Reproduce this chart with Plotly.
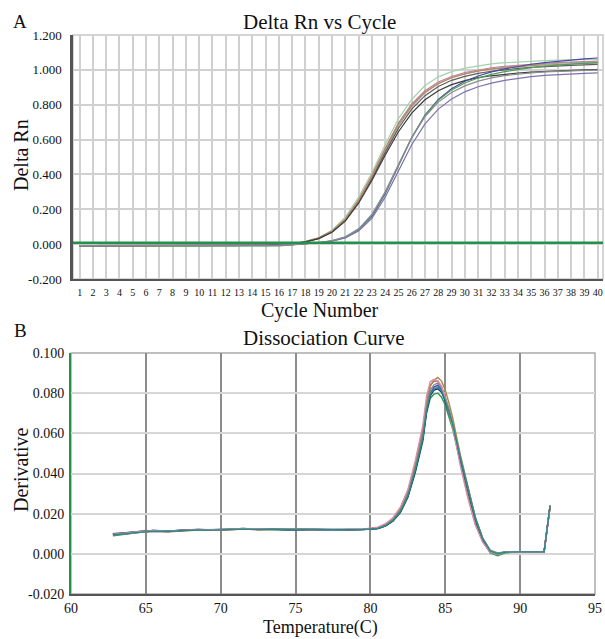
import plotly.graph_objects as go

# ---------------- Data: amplification plot (A) ----------------
cycles = list(range(1, 41))
cycle_ticks = [str(c) for c in cycles]
threshold = 0.008

amp_e1 = [-0.008,-0.009,-0.009,-0.010,-0.010,-0.010,-0.010,-0.010,-0.010,-0.010,-0.011,-0.011,-0.012,-0.012,-0.010,
          -0.006,0.002,0.015,0.038,0.080,0.155,0.270,0.410,0.570,0.720,0.830,0.910,0.960,0.990,1.010,
          1.024,1.034,1.041,1.046,1.050,1.053,1.056,1.058,1.060,1.062]
amp_e2 = [-0.010,-0.012,-0.011,-0.010,-0.010,-0.009,-0.009,-0.010,-0.010,-0.009,-0.009,-0.009,-0.008,-0.008,-0.007,
          -0.004,0.003,0.015,0.036,0.075,0.145,0.255,0.395,0.550,0.695,0.805,0.880,0.930,0.962,0.985,
          1.000,1.012,1.020,1.027,1.032,1.037,1.041,1.044,1.047,1.050]
amp_e3 = [-0.007,-0.008,-0.008,-0.008,-0.008,-0.008,-0.008,-0.009,-0.009,-0.009,-0.009,-0.009,-0.008,-0.008,-0.007,
          -0.004,0.002,0.013,0.033,0.070,0.138,0.243,0.380,0.535,0.680,0.790,0.868,0.920,0.955,0.978,
          0.995,1.007,1.016,1.023,1.029,1.034,1.038,1.041,1.044,1.046]
amp_e4 = [-0.009,-0.009,-0.009,-0.009,-0.009,-0.009,-0.009,-0.009,-0.009,-0.009,-0.009,-0.008,-0.008,-0.008,-0.007,
          -0.004,0.002,0.013,0.033,0.072,0.140,0.245,0.375,0.525,0.665,0.775,0.852,0.905,0.940,0.963,
          0.980,0.992,1.001,1.008,1.014,1.019,1.023,1.026,1.029,1.031]
amp_e5 = [-0.008,-0.008,-0.008,-0.009,-0.009,-0.009,-0.009,-0.009,-0.009,-0.009,-0.009,-0.009,-0.008,-0.008,-0.007,
          -0.004,0.002,0.014,0.035,0.074,0.143,0.250,0.388,0.545,0.690,0.798,0.872,0.922,0.955,0.977,
          0.993,1.004,1.012,1.019,1.024,1.028,1.032,1.035,1.037,1.040]
amp_e6 = [-0.009,-0.009,-0.009,-0.009,-0.009,-0.009,-0.009,-0.009,-0.009,-0.009,-0.009,-0.009,-0.008,-0.008,-0.007,
          -0.004,0.002,0.013,0.032,0.068,0.132,0.235,0.365,0.510,0.645,0.752,0.828,0.880,0.915,0.938,
          0.955,0.966,0.975,0.982,0.987,0.991,0.995,0.998,1.000,1.002]
amp_l1 = [-0.009,-0.009,-0.009,-0.009,-0.009,-0.009,-0.009,-0.009,-0.009,-0.009,-0.009,-0.009,-0.009,-0.008,-0.008,
          -0.006,-0.003,0.002,0.008,0.018,0.038,0.082,0.160,0.290,0.450,0.610,0.740,0.830,0.892,0.935,
          0.965,0.988,1.006,1.020,1.032,1.042,1.050,1.057,1.063,1.068]
amp_l2 = [-0.010,-0.010,-0.010,-0.010,-0.010,-0.010,-0.010,-0.010,-0.010,-0.011,-0.012,-0.013,-0.014,-0.014,-0.013,
          -0.010,-0.005,0.001,0.008,0.019,0.040,0.085,0.165,0.295,0.455,0.612,0.738,0.826,0.885,0.925,
          0.953,0.974,0.990,1.003,1.013,1.021,1.028,1.033,1.037,1.041]
amp_l3 = [-0.008,-0.008,-0.008,-0.008,-0.008,-0.008,-0.008,-0.008,-0.008,-0.008,-0.008,-0.008,-0.008,-0.008,-0.008,
          -0.006,-0.003,0.002,0.008,0.017,0.035,0.075,0.148,0.270,0.420,0.570,0.690,0.775,0.833,0.874,
          0.903,0.924,0.940,0.952,0.961,0.968,0.973,0.977,0.980,0.983]
amp_l4 = [-0.009,-0.009,-0.009,-0.009,-0.009,-0.009,-0.009,-0.009,-0.009,-0.009,-0.009,-0.009,-0.009,-0.008,-0.008,
          -0.006,-0.003,0.002,0.009,0.020,0.042,0.088,0.170,0.300,0.458,0.612,0.732,0.815,0.870,0.908,
          0.935,0.954,0.967,0.976,0.983,0.988,0.992,0.995,0.997,0.999]

amp_series = [amp_e1, amp_e2, amp_e3, amp_e4, amp_e5, amp_e6, amp_l1, amp_l2, amp_l3, amp_l4]
amp_colors = ["#9fd4ad", "#c87a9a", "#a0a0a0", "#5e5e5e", "#b38d62", "#3a3a3a",
              "#4a4aa0", "#4f9e60", "#7c72b2", "#8c8c8c"]

# ---------------- Data: dissociation curve (B) ----------------
temps = [62.8, 63.5, 64.5, 65.5, 66.5, 67.5, 68.5, 69.5, 70.5, 71.5, 72.5, 73.5, 74.5, 75.5, 76.5,
         77.5, 78.5, 79.5, 80.5, 81.0, 81.5, 82.0, 82.5, 83.0, 83.5, 83.75, 84.0, 84.25, 84.5, 84.75,
         85.0, 85.25, 85.5, 86.0, 86.5, 87.0, 87.5, 88.0, 88.5, 89.0, 90.0, 91.0, 91.6, 92.0]

der_d1 = [0.0095,0.0102,0.0108,0.0112,0.0110,0.0116,0.0119,0.0117,0.0121,0.0124,0.0120,0.0123,0.0121,0.0123,0.0120,0.0118,0.0121,0.0123,
          0.0131,0.0146,0.0175,0.0225,0.0310,0.0450,0.0620,
          0.0760,0.0840,0.0860,0.0860,0.0830,0.0775,0.0710,0.0640,
          0.0450,0.0290,0.0150,0.0060,0.0008,-0.0005,0.0008,
          0.0010,0.0010,0.0010,0.0235]
der_d2 = [0.0090,0.0098,0.0106,0.0113,0.0111,0.0117,0.0118,0.0116,0.0120,0.0123,0.0121,0.0122,0.0119,0.0121,0.0122,0.0119,0.0120,0.0121,
          0.0126,0.0138,0.0162,0.0205,0.0280,0.0405,0.0560,
          0.0700,0.0775,0.0795,0.0800,0.0780,0.0740,0.0685,0.0620,
          0.0460,0.0310,0.0165,0.0065,0.0005,-0.0010,0.0005,
          0.0010,0.0010,0.0010,0.0240]
der_d3 = [0.0098,0.0101,0.0110,0.0116,0.0113,0.0119,0.0121,0.0119,0.0122,0.0126,0.0122,0.0124,0.0120,0.0122,0.0121,0.0120,0.0119,0.0122,
          0.0127,0.0140,0.0166,0.0210,0.0290,0.0420,0.0580,
          0.0720,0.0800,0.0830,0.0840,0.0818,0.0770,0.0710,0.0645,
          0.0480,0.0325,0.0180,0.0075,0.0015,0.0000,0.0008,
          0.0010,0.0010,0.0010,0.0240]
der_d4 = [0.0100,0.0104,0.0112,0.0117,0.0114,0.0118,0.0120,0.0120,0.0123,0.0125,0.0123,0.0121,0.0122,0.0120,0.0121,0.0121,0.0120,0.0121,
          0.0126,0.0139,0.0164,0.0208,0.0285,0.0412,0.0570,
          0.0710,0.0788,0.0815,0.0822,0.0805,0.0760,0.0705,0.0640,
          0.0475,0.0320,0.0175,0.0072,0.0012,0.0002,0.0009,
          0.0010,0.0010,0.0010,0.0238]
der_d5 = [0.0093,0.0099,0.0109,0.0114,0.0112,0.0117,0.0121,0.0118,0.0122,0.0127,0.0121,0.0122,0.0120,0.0124,0.0121,0.0119,0.0120,0.0122,
          0.0129,0.0143,0.0170,0.0218,0.0300,0.0438,0.0605,
          0.0750,0.0835,0.0865,0.0878,0.0860,0.0815,0.0750,0.0675,
          0.0495,0.0335,0.0185,0.0078,0.0015,0.0000,0.0008,
          0.0010,0.0010,0.0010,0.0240]
der_d6 = [0.0097,0.0103,0.0111,0.0115,0.0113,0.0118,0.0120,0.0119,0.0121,0.0124,0.0122,0.0123,0.0121,0.0122,0.0122,0.0120,0.0121,0.0122,
          0.0128,0.0142,0.0168,0.0214,0.0295,0.0428,0.0590,
          0.0730,0.0815,0.0842,0.0850,0.0828,0.0780,0.0720,0.0650,
          0.0485,0.0330,0.0182,0.0078,0.0018,0.0004,0.0009,
          0.0010,0.0010,0.0010,0.0240]
der_d7 = [0.0096,0.0102,0.0109,0.0113,0.0112,0.0117,0.0122,0.0120,0.0121,0.0125,0.0124,0.0122,0.0121,0.0123,0.0121,0.0120,0.0122,0.0123,
          0.0133,0.0150,0.0180,0.0232,0.0320,0.0465,0.0640,
          0.0785,0.0858,0.0868,0.0862,0.0835,0.0775,0.0705,0.0630,
          0.0440,0.0280,0.0145,0.0058,0.0008,-0.0003,0.0008,
          0.0010,0.0010,0.0010,0.0236]
der_d8 = [0.0094,0.0100,0.0107,0.0112,0.0111,0.0116,0.0119,0.0118,0.0120,0.0123,0.0121,0.0122,0.0120,0.0122,0.0120,0.0119,0.0120,0.0121,
          0.0127,0.0140,0.0165,0.0210,0.0288,0.0418,0.0575,
          0.0715,0.0795,0.0820,0.0830,0.0810,0.0765,0.0708,0.0642,
          0.0478,0.0322,0.0178,0.0074,0.0014,0.0000,0.0008,
          0.0010,0.0010,0.0010,0.0240]

der_series = [der_d1, der_d2, der_d3, der_d4, der_d5, der_d6, der_d7, der_d8]
der_colors = ["#d04a4a", "#2e9a4e", "#3a48c0", "#22227a", "#a8894a", "#888888", "#d890a8", "#2a8a8a"]

# ---------------- Figure ----------------
W, H = 605, 639
FONT = "Liberation Serif, Times New Roman, serif"

def px_x(p):
    return p / W

def px_y(p):
    return 1 - p / H

fig = go.Figure()

for vals, col in zip(amp_series, amp_colors):
    fig.add_trace(go.Scatter(x=cycles, y=vals, mode="lines", line=dict(color=col, width=1.2),
                             xaxis="x", yaxis="y", showlegend=False, hoverinfo="skip"))
fig.add_trace(go.Scatter(x=[cycles[0] - 0.5, cycles[-1] + 0.4], y=[threshold, threshold], mode="lines",
                         line=dict(color="#23914a", width=2.5), xaxis="x", yaxis="y",
                         showlegend=False, hoverinfo="skip"))

for vals, col in zip(der_series, der_colors):
    fig.add_trace(go.Scatter(x=temps, y=vals, mode="lines", line=dict(color=col, width=1.4),
                             xaxis="x2", yaxis="y2", showlegend=False, hoverinfo="skip"))

fig.update_layout(
    width=W, height=H,
    margin=dict(l=0, r=0, t=0, b=0, autoexpand=False),
    paper_bgcolor="white", plot_bgcolor="white",
    xaxis=dict(domain=[px_x(73), px_x(603)], range=[0.5, 40.4], tickmode="array",
               tickvals=cycles, ticktext=cycle_ticks, tickangle=0,
               tickfont=dict(family=FONT, size=10, color="#111"),
               showgrid=True, gridcolor="#d0d0d0", gridwidth=1.5, zeroline=False,
               showline=True, linecolor="#555", linewidth=2, ticks="", ticklabelstandoff=3,
               automargin=False, anchor="y"),
    yaxis=dict(domain=[px_y(279), px_y(35)], range=[-0.2, 1.2], tickmode="array",
               tickvals=[-0.2, 0, 0.2, 0.4, 0.6, 0.8, 1.0, 1.2],
               ticktext=["-0.200", "0.000", "0.200", "0.400", "0.600", "0.800", "1.000", "1.200"],
               tickfont=dict(family=FONT, size=13, color="#111"),
               showgrid=True, gridcolor="#d0d0d0", gridwidth=1.5, zeroline=False,
               showline=True, linecolor="#555", linewidth=2.5, ticks="", ticklabelstandoff=6,
               automargin=False, anchor="x"),
    xaxis2=dict(domain=[px_x(71), px_x(595)], range=[60, 95], tickmode="array",
                tickvals=[60, 65, 70, 75, 80, 85, 90, 95], tickangle=0,
                tickfont=dict(family=FONT, size=14, color="#111"),
                showgrid=True, gridcolor="#8c8c8c", gridwidth=1.5, zeroline=False,
                showline=True, linecolor="#555", linewidth=2, ticks="", ticklabelstandoff=0,
                automargin=False, anchor="y2"),
    yaxis2=dict(domain=[px_y(594), px_y(353)], range=[-0.02, 0.1], tickmode="array",
                tickvals=[-0.02, 0, 0.02, 0.04, 0.06, 0.08, 0.1],
                ticktext=["-0.020", "0.000", "0.020", "0.040", "0.060", "0.080", "0.100"],
                tickfont=dict(family=FONT, size=14, color="#111"),
                showgrid=True, gridcolor="#d6d6d6", gridwidth=2, zeroline=False,
                showline=True, linecolor="#23914a", linewidth=2, ticks="", ticklabelstandoff=2,
                automargin=False, anchor="x2"),
    shapes=[
        dict(type="rect", xref="x domain", yref="y domain", x0=0, x1=1, y0=0, y1=1,
             line=dict(color="#c8c8c8", width=1.5), layer="below"),
        dict(type="rect", xref="x2 domain", yref="y2 domain", x0=0, x1=1, y0=0, y1=1,
             line=dict(color="#aaaaaa", width=1.5), layer="below"),
    ],
)

ann = [
    dict(text="A", x=px_x(20), y=px_y(21), size=19, ya="middle"),
    dict(text="Delta Rn vs Cycle", x=px_x(319), y=px_y(22), size=21, ya="middle"),
    dict(text="Cycle Number", x=px_x(320), y=px_y(310), size=20, ya="middle"),
    dict(text="B", x=px_x(20), y=px_y(330), size=19, ya="middle"),
    dict(text="Dissociation Curve", x=px_x(324), y=px_y(338), size=21, ya="middle"),
    dict(text="Temperature(C)", x=px_x(320), y=0, size=18, ya="bottom"),
]
for a in ann:
    fig.add_annotation(text=a["text"], x=a["x"], y=a["y"], xref="paper", yref="paper",
                       showarrow=False, xanchor="center", yanchor=a["ya"], borderpad=0,
                       font=dict(family=FONT, size=a["size"], color="#111"))
fig.add_annotation(text="Delta Rn", x=px_x(21), y=px_y(155), xref="paper", yref="paper",
                   showarrow=False, textangle=-90, xanchor="center", yanchor="middle",
                   font=dict(family=FONT, size=20, color="#111"))
fig.add_annotation(text="Derivative", x=px_x(21), y=px_y(470), xref="paper", yref="paper",
                   showarrow=False, textangle=-90, xanchor="center", yanchor="middle",
                   font=dict(family=FONT, size=20, color="#111"))

fig.write_html("out.html", config={"displayModeBar": False},
               post_script="document.body.style.margin='0';document.body.style.overflow='hidden';")
